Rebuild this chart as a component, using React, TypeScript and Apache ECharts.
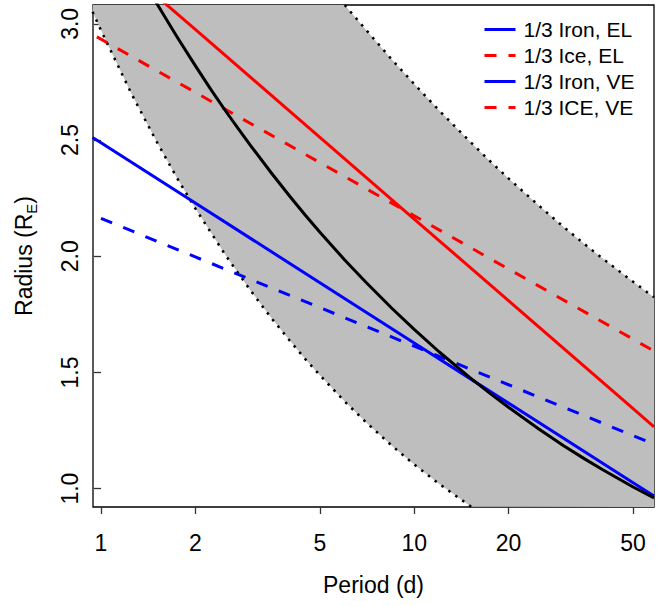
import React, { useEffect, useRef } from "react";
import * as echarts from "echarts";

// Axis ticks
const xTicks = [1, 2, 5, 10, 20, 50];
const yTicks = [1.0, 1.5, 2.0, 2.5, 3.0];
const xMin = 0.943;
const xMax = 58.3;
const yMin = 0.921;
const yMax = 3.081;

// Series (Period in days, Radius in Earth radii)
const ironELPeriod = [0.94, 1, 2, 5, 10, 20, 50, 58.3];
const ironELRadius = [2.511, 2.488, 2.229, 1.886, 1.627, 1.368, 1.025, 0.968];

const iceELPeriod = [0.97, 1, 2, 5, 10, 20, 50, 58.3];
const iceELRadius = [2.944, 2.934, 2.705, 2.403, 2.174, 1.945, 1.643, 1.592];

const ironVEPeriod = [1, 2, 5, 10, 20, 50, 58.3];
const ironVERadius = [2.163, 1.997, 1.779, 1.613, 1.447, 1.228, 1.192];

const iceVEPeriod = [1.5, 2, 5, 10, 20, 50, 58.3];
const iceVERadius = [3.121, 2.976, 2.511, 2.16, 1.809, 1.344, 1.266];

const blackPeriod = [1.5, 1.75, 2, 2.25, 2.5, 2.75, 3, 3.5, 4, 4.5, 5, 6, 7, 8.5, 10, 12, 15, 17.5, 20, 25, 30, 35, 40, 50, 58.3];
const blackRadius = [3.092, 2.943, 2.82, 2.715, 2.625, 2.547, 2.477, 2.358, 2.259, 2.175, 2.103, 1.984, 1.889, 1.775, 1.685, 1.589, 1.48, 1.409, 1.35, 1.257, 1.185, 1.128, 1.081, 1.007, 0.96];

const lowerPeriod = [0.94, 1, 1.25, 1.5, 1.75, 2, 2.5, 3, 3.5, 4, 4.5, 5, 6, 7, 8.5, 10, 12, 15.2];
const lowerRadius = [3.052, 2.972, 2.7, 2.497, 2.336, 2.206, 2.004, 1.853, 1.734, 1.638, 1.556, 1.488, 1.375, 1.287, 1.184, 1.104, 1.021, 0.922];

const upperPeriod = [6, 7, 8.5, 10, 12, 15, 17.5, 20, 25, 30, 35, 40, 45, 50, 58.3];
const upperRadius = [3.081, 2.976, 2.845, 2.741, 2.628, 2.496, 2.408, 2.335, 2.218, 2.126, 2.052, 1.99, 1.937, 1.89, 1.824];

const FONT = "'Liberation Sans', Arial, sans-serif";

const toPts = (p: number[], r: number[]) => p.map((v, i) => [Math.log10(v), r[i]]);

export default function App() {
  const ref = useRef<HTMLDivElement>(null);
  useEffect(() => {
    document.body.style.margin = "0";
    if (!ref.current) return;
    const chart = echarts.init(ref.current, undefined, { renderer: "svg" });

    // band polygon: top-left corner, lower boundary, bottom-right corner, upper boundary reversed
    const bandPts: number[][] = [
      [Math.log10(xMin), yMax],
      ...toPts(lowerPeriod, lowerRadius),
      [Math.log10(xMax), yMin],
      ...toPts(upperPeriod, upperRadius).reverse(),
    ];

    const lineSeries = (name: string, p: number[], r: number[], color: string, type: any, width = 3) => ({
      name,
      type: "line",
      data: toPts(p, r),
      symbol: "none",
      showSymbol: false,
      smooth: false,
      clip: true,
      lineStyle: { color, width, type, cap: "butt", join: "round" },
      itemStyle: { color },
      z: 5,
    });

    const hidden = { color: "rgba(0,0,0,0)", borderWidth: 0, opacity: 0 };

    chart.setOption({
      animation: false,
      grid: {
        left: 93,
        right: 15,
        top: 5,
        bottom: 99,
        show: true,
        borderColor: "#000",
        borderWidth: 1.3,
        backgroundColor: "transparent",
      },
      legend: {
        orient: "vertical",
        left: 483,
        top: 19,
        itemWidth: 31,
        itemHeight: 14,
        itemGap: 5,
        padding: 0,
        textStyle: { fontFamily: FONT, fontSize: 21, color: "#000", padding: [0, 0, 0, 3] },
        data: [
          { name: "1/3 Iron, EL", itemStyle: hidden, lineStyle: { color: "#0000FF", type: "solid", width: 3 } },
          { name: "1/3 Ice, EL", itemStyle: hidden, lineStyle: { color: "#FF0000", type: [12, 12], width: 3 } },
          { name: "1/3 Iron, VE", itemStyle: hidden, lineStyle: { color: "#0000FF", type: "solid", width: 3 } },
          { name: "1/3 ICE, VE", itemStyle: hidden, lineStyle: { color: "#FF0000", type: [12, 12], width: 3 } },
        ],
      },
      xAxis: {
        type: "value",
        min: Math.log10(xMin),
        max: Math.log10(xMax),
        name: "Period (d)",
        nameLocation: "middle",
        nameGap: 66,
        nameTextStyle: { fontFamily: FONT, fontSize: 23, color: "#000" },
        axisLine: { show: false },
        splitLine: { show: false },
        axisTick: {
          show: true,
          length: 7,
          lineStyle: { color: "#333", width: 1.3 },
          customValues: xTicks.map((v) => Math.log10(v)),
        },
        axisLabel: {
          fontFamily: FONT,
          fontSize: 23,
          color: "#000",
          margin: 24,
          customValues: xTicks.map((v) => Math.log10(v)),
          formatter: (v: number) => String(Math.round(Math.pow(10, v))),
        },
      },
      yAxis: {
        type: "value",
        min: yMin,
        max: yMax,
        name: "{a|Radius (R}{b|E}{a|)}",
        nameLocation: "middle",
        nameRotate: 90,
        nameGap: 54,
        nameTextStyle: {
          fontFamily: FONT,
          color: "#000",
          rich: {
            a: { fontFamily: FONT, fontSize: 23, color: "#000", lineHeight: 30, verticalAlign: "middle" },
            b: { fontFamily: FONT, fontSize: 15, color: "#000", lineHeight: 16, verticalAlign: "bottom" },
          },
        },
        axisLine: { show: false },
        splitLine: { show: false },
        axisTick: {
          show: true,
          length: 7,
          lineStyle: { color: "#333", width: 1.3 },
          customValues: yTicks,
        },
        axisLabel: {
          fontFamily: FONT,
          fontSize: 23,
          color: "#000",
          rotate: 90,
          margin: 12,
          customValues: yTicks,
          formatter: (v: number) => v.toFixed(1),
        },
      },
      series: [
        {
          type: "custom",
          name: "band",
          coordinateSystem: "cartesian2d",
          silent: true,
          z: 1,
          data: [bandPts[0]],
          renderItem: (params: any, api: any) => ({
            type: "polygon",
            shape: { points: bandPts.map((pt) => api.coord(pt)) },
            style: { fill: "#BEBEBE", stroke: "none" },
          }),
        },
        {
          ...lineSeries("lower", lowerPeriod, lowerRadius, "#000", [2.5, 6], 2.5),
          z: 3,
        },
        {
          ...lineSeries("upper", upperPeriod, upperRadius, "#000", [2.5, 6], 2.5),
          z: 3,
        },
        lineSeries("1/3 Iron, EL", ironELPeriod, ironELRadius, "#0000FF", "solid"),
        lineSeries("1/3 Ice, EL", iceELPeriod, iceELRadius, "#FF0000", [12, 12]),
        lineSeries("1/3 Iron, VE", ironVEPeriod, ironVERadius, "#0000FF", [12, 12]),
        lineSeries("1/3 ICE, VE", iceVEPeriod, iceVERadius, "#FF0000", "solid"),
        lineSeries("model", blackPeriod, blackRadius, "#000", "solid", 3),
      ],
    });
    return () => chart.dispose();
  }, []);
  return <div ref={ref} style={{ width: 669, height: 606 }} />;
}
